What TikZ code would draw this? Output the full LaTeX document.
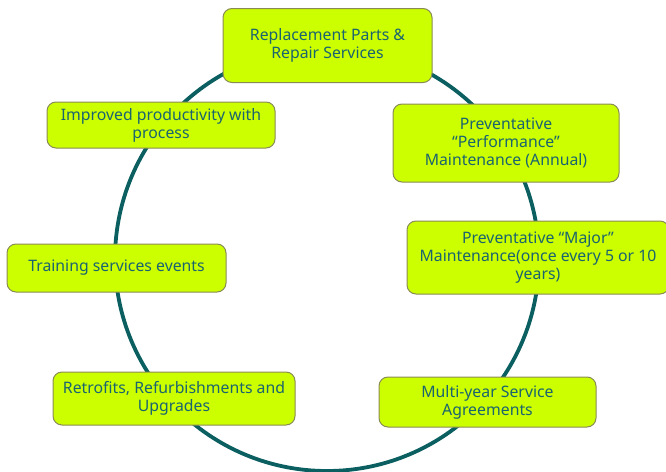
\documentclass[tikz,border=0pt]{standalone}
\usepackage{fontspec}
\setmainfont{Noto Sans}
\definecolor{lime}{HTML}{CCFF00}
\definecolor{boxline}{HTML}{8A8A55}
\definecolor{ring}{HTML}{0B5F60}
\definecolor{txt}{HTML}{1A6370}
\begin{document}
\begin{tikzpicture}[x=1pt,y=-1pt,
  card/.style={draw=boxline, line width=1pt, fill=lime, rounded corners=9pt,
    align=center, text=txt, inner sep=2pt,
    font=\fontsize{15.8}{17.8}\selectfont},
  ringline/.style={draw=ring, line width=3.8pt}]
\useasboundingbox (0,0) rectangle (666,471);
\draw[ringline] (327,259) circle[radius=212];
\node[card, minimum width=209pt, minimum height=74pt] (repl) at (327.5,45.5) {Replacement Parts \&\\Repair Services};
\node[card, minimum width=226pt, minimum height=78pt] (perf) at (506,143) {Preventative\\“Performance”\\Maintenance (Annual)};
\node[card, minimum width=262pt, minimum height=73pt] (major) at (538,257.5) {Preventative “Major”\\Maintenance(once every 5 or 10\\years)};
\node[card, minimum width=228pt, minimum height=46pt] (impr) at (161,125) {Improved productivity with\\process};
\node[card, minimum width=219pt, minimum height=48pt] (train) at (116.5,268) {Training services events};
\node[card, minimum width=242pt, minimum height=53pt] (retro) at (174,398.5) {Retrofits, Refurbishments and\\Upgrades};
\node[card, minimum width=217pt, minimum height=50pt] (multi) at (487.5,402) {Multi-year Service\\Agreements};
\end{tikzpicture}
\end{document}
